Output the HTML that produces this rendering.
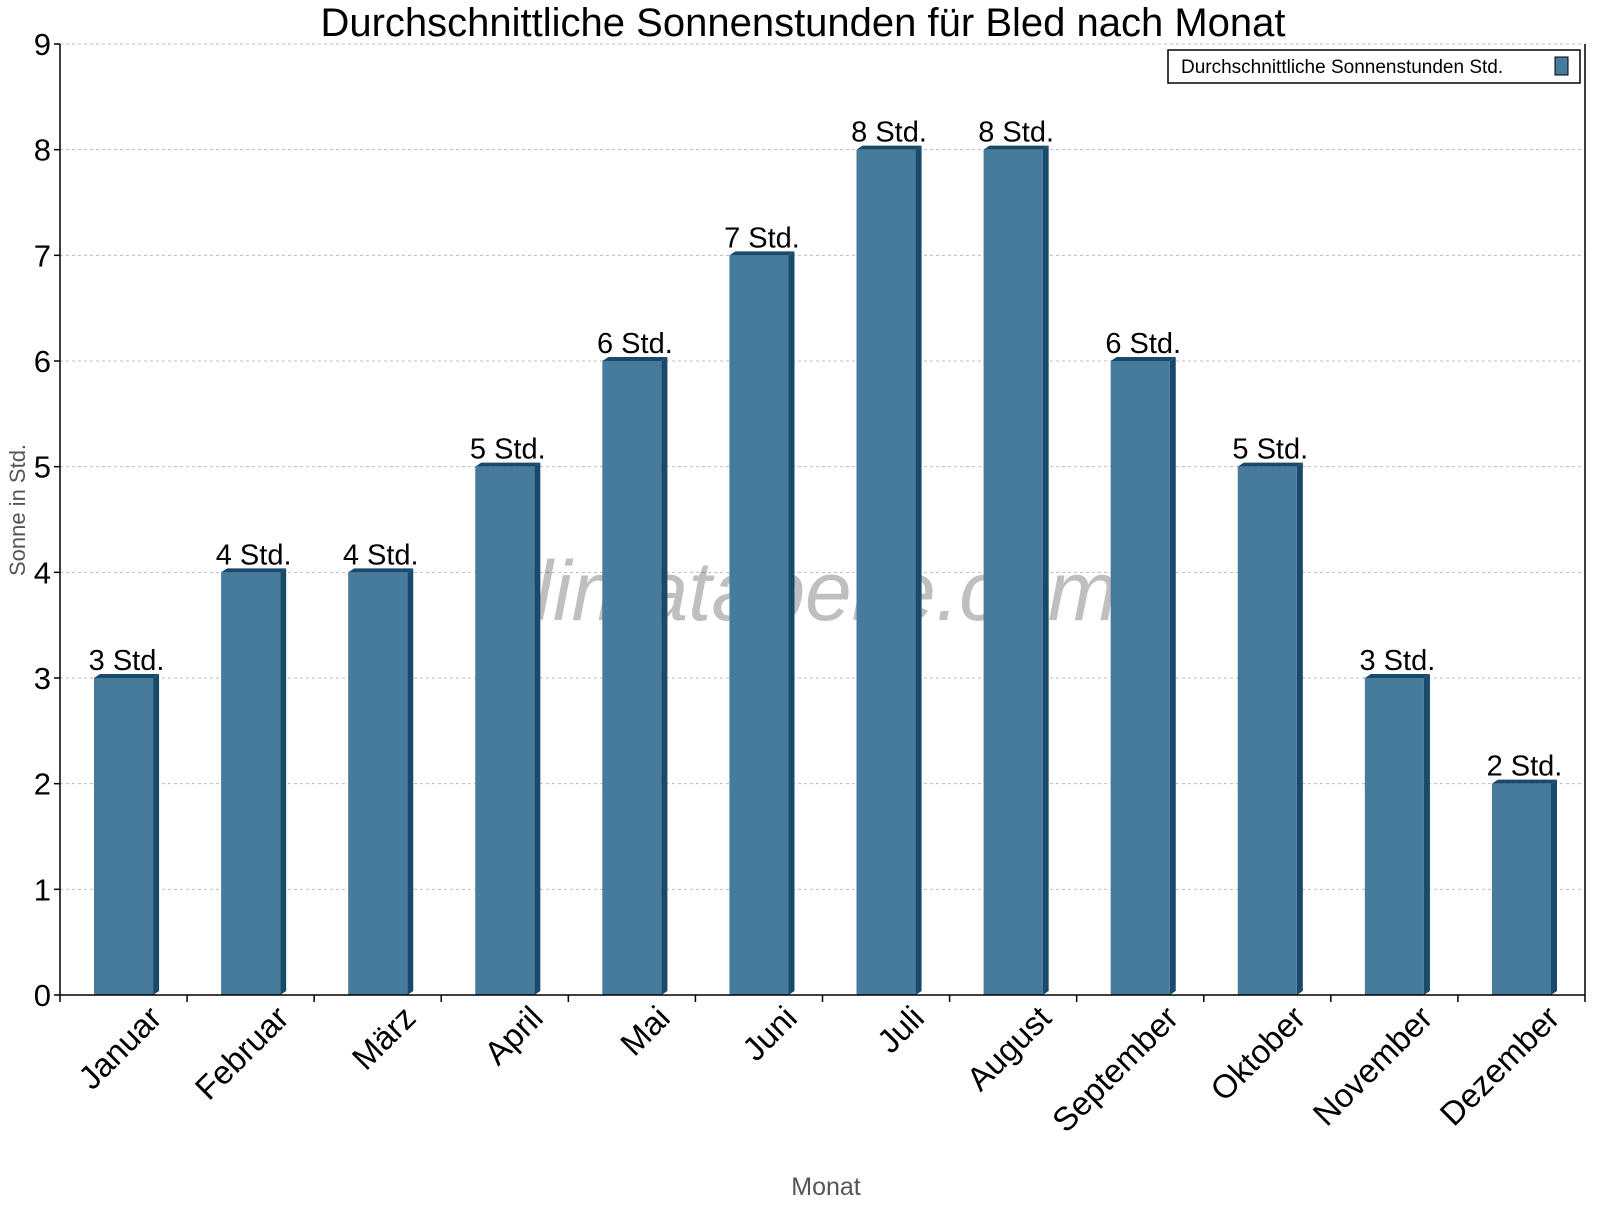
<!DOCTYPE html>
<html><head><meta charset="utf-8"><style>
body{margin:0;background:#fff;}
svg text{font-family:"Liberation Sans",sans-serif;}
</style></head><body>
<svg id="c" width="1600" height="1200" xmlns="http://www.w3.org/2000/svg">
<text x="803" y="36" font-size="40" text-anchor="middle">Durchschnittliche Sonnenstunden für Bled nach Monat</text>
<g id="grid"></g>
<text x="805" y="620" font-size="84" font-style="italic" fill="#000" fill-opacity="0.25" text-anchor="middle">klimatabelle.com</text>
<g id="bars"></g>
<g id="axes"></g>
<text x="826" y="1195" font-size="25" fill="#555" text-anchor="middle">Monat</text>
<text transform="translate(25,510) rotate(-90)" font-size="22" fill="#555" text-anchor="middle">Sonne in Std.</text>
<g>
<rect x="1168" y="50" width="412" height="33" fill="#fff" stroke="#000" stroke-width="1.5"/>
<text x="1181" y="73" font-size="19">Durchschnittliche Sonnenstunden Std.</text>
<rect x="1555" y="57" width="13" height="18" fill="#467b9c" stroke="#000" stroke-width="1"/>
</g>
</svg>
<script>
const categories=["Januar","Februar","März","April","Mai","Juni","Juli","August","September","Oktober","November","Dezember"];
const values=[3,4,4,5,6,7,8,8,6,5,3,2];
const yTicks=[0,1,2,3,4,5,6,7,8,9];
const NS="http://www.w3.org/2000/svg";
const x0=60,x1=1585,y0=995,yTop=44,yMax=9;
const cw=(x1-x0)/categories.length;
const y=v=>y0-(v/yMax)*(y0-yTop);
function mk(tag,attrs,parent){const e=document.createElementNS(NS,tag);for(const k in attrs)e.setAttribute(k,attrs[k]);parent.appendChild(e);return e;}
const grid=document.getElementById('grid'),bars=document.getElementById('bars'),axes=document.getElementById('axes');
yTicks.forEach(t=>{
  if(t>0){const l=mk('line',{x1:x0,x2:x1,y1:y(t),y2:y(t),stroke:'#bbb','stroke-dasharray':'3,3'},grid);
  
  }
  const tk=mk('line',{x1:x0-6,x2:x0,y1:y(t),y2:y(t),stroke:'#000','stroke-width':1.5},axes);
  
  
  const tl=mk('text',{x:x0-9,y:y(t)+11,'font-size':31,'text-anchor':'end'},axes);
  tl.textContent=t;
  
  
});
const bw=cw*0.465,d=6;
values.forEach((v,i)=>{
  const cx=x0+cw*(i+0.5),bx=cx-bw/2,by=y(v);
  const g=mk('g',{},bars);
  
  
  mk('polygon',{points:`${bx+bw},${by} ${bx+bw+d},${by-4} ${bx+bw+d},${y0-4} ${bx+bw},${y0}`,fill:'#1a4a6b'},g);
  mk('polygon',{points:`${bx},${by} ${bx+d},${by-4} ${bx+bw+d},${by-4} ${bx+bw},${by}`,fill:'#1a4a6b'},g);
  mk('rect',{x:bx,y:by,width:bw,height:y0-by,fill:'#467b9c'},g);
  const vl=mk('text',{x:cx+3,y:by-8,'font-size':29,'text-anchor':'middle'},bars);
  vl.textContent=v+' Std.';
  
  
  const xl=mk('text',{transform:`translate(${cx+40},${y0+25}) rotate(-45)`,'font-size':33,'text-anchor':'end'},axes);
  xl.textContent=categories[i];
  
  
});
for(let i=0;i<=categories.length;i++){
  const t=mk('line',{x1:x0+cw*i,x2:x0+cw*i,y1:y0,y2:y0+7,stroke:'#000','stroke-width':1.5},axes);
  
  
}
const ax=mk('line',{x1:x0,x2:x1,y1:y0,y2:y0,stroke:'#000','stroke-width':1.5},axes);


const ay=mk('line',{x1:x0,x2:x0,y1:yTop,y2:y0,stroke:'#000','stroke-width':1.5},axes);


const ar=mk('line',{x1:x1,x2:x1,y1:yTop,y2:y0,stroke:'#000','stroke-width':1.5},axes);


</script>
</body></html>
